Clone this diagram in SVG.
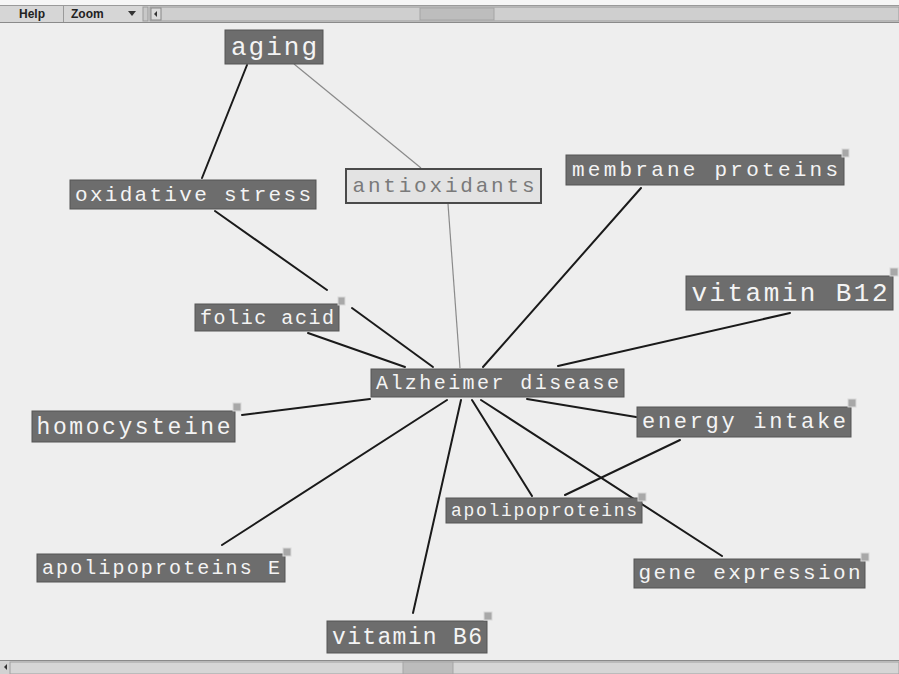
<svg xmlns="http://www.w3.org/2000/svg" width="899" height="674" viewBox="0 0 899 674">
<style>
.bg{fill:#eeeeee}
.node rect.box{fill:#6d6d6d;stroke:#555;stroke-width:1}
.node text{font-family:"Liberation Mono","Courier New",monospace;fill:#f4f4f4;text-anchor:middle}
.light rect.box{fill:#e3e3e3;stroke:#4a4a4a;stroke-width:2}
.light text{fill:#7a7a7a}
.badge{fill:#a8a8a8;stroke:#d8d8d8;stroke-width:1}
.edge{stroke:#1a1a1a;stroke-width:2;fill:none;stroke-linecap:round}
.thin{stroke:#8a8a8a;stroke-width:1.2;fill:none}
.tb{fill:#d6d6d6}
.btn{font-family:"Liberation Sans",Arial,sans-serif;font-size:12px;font-weight:bold;fill:#222}
</style>
<rect class="bg" x="0" y="0" width="899" height="674"/>
<!-- toolbar -->
<g id="toolbar">
<rect x="0" y="0" width="899" height="5" fill="#f6f6f6"/>
<rect class="tb" x="0" y="5" width="899" height="18"/>
<line x1="0" y1="5.5" x2="899" y2="5.5" stroke="#9a9a9a"/>
<line x1="0" y1="22.5" x2="899" y2="22.5" stroke="#8a8a8a"/>
<text class="btn" x="19" y="18">Help</text>
<line x1="63.5" y1="6" x2="63.5" y2="22" stroke="#9a9a9a"/>
<text class="btn" x="71" y="18">Zoom</text>
<polygon points="128,11 136,11 132,16" fill="#333"/>
<rect x="143" y="7" width="5" height="14" fill="#c8c8c8" stroke="#999"/>
<rect x="150" y="7" width="749" height="14" fill="#cfcfcf" stroke="#9a9a9a"/>
<rect x="151" y="8" width="10" height="12" fill="#dadada" stroke="#888"/>
<polygon points="157,11 157,17 154,14" fill="#333"/>
<rect x="420" y="8" width="74" height="12" fill="#bdbdbd" stroke="#a5a5a5"/>
</g>
<!-- bottom scrollbar -->
<g id="hscroll">
<rect x="0" y="660" width="899" height="14" fill="#d2d2d2"/>
<line x1="0" y1="660.5" x2="899" y2="660.5" stroke="#8a8a8a"/>
<rect x="10" y="662" width="889" height="12" fill="#d6d6d6" stroke="#a0a0a0"/>
<polygon points="7,664 7,670 4,667" fill="#333"/>
<rect x="403" y="662" width="50" height="12" fill="#bcbcbc" stroke="#a5a5a5"/>
</g>
<!-- connectors -->
<g id="connectors">
<line class="edge" x1="247" y1="65" x2="202" y2="178"/>
<line class="thin" x1="294" y1="64" x2="421" y2="168"/>
<line class="thin" x1="448" y1="204" x2="460" y2="368"/>
<line class="edge" x1="215" y1="211" x2="327" y2="290"/>
<line class="edge" x1="352" y1="308" x2="433" y2="367"/>
<line class="edge" x1="308" y1="333" x2="405" y2="367"/>
<line class="edge" x1="641" y1="188" x2="483" y2="367"/>
<line class="edge" x1="790" y1="313" x2="558" y2="366"/>
<line class="edge" x1="242" y1="415" x2="370" y2="399"/>
<line class="edge" x1="527" y1="399" x2="636" y2="417"/>
<line class="edge" x1="447" y1="400" x2="222" y2="545"/>
<line class="edge" x1="461" y1="400" x2="413" y2="613"/>
<line class="edge" x1="472" y1="400" x2="532" y2="496"/>
<line class="edge" x1="481" y1="400" x2="722" y2="556"/>
<line class="edge" x1="680" y1="440" x2="565" y2="495"/>
</g>
<!-- nodes -->
<g id="n-aging" class="node"><rect class="box" x="225" y="30" width="98" height="34"/><text x="274" y="55" font-size="26" textLength="86" lengthAdjust="spacing">aging</text></g>
<g id="n-oxidative-stress" class="node"><rect class="box" x="70" y="180" width="246" height="29"/><text x="193" y="201" font-size="21" textLength="236" lengthAdjust="spacing">oxidative stress</text></g>
<g id="n-antioxidants" class="node light"><rect class="box" x="346" y="169" width="195" height="34"/><text x="443.5" y="192" font-size="21" textLength="182" lengthAdjust="spacing">antioxidants</text></g>
<g id="n-membrane-proteins" class="node"><rect class="box" x="566" y="155" width="278" height="30"/><text x="705" y="176" font-size="21" textLength="266" lengthAdjust="spacing">membrane proteins</text><rect class="badge" x="842" y="149" width="7" height="8"/></g>
<g id="n-vitamin-b12" class="node"><rect class="box" x="686" y="276" width="207" height="34"/><text x="789.5" y="301" font-size="26" textLength="196" lengthAdjust="spacing">vitamin B12</text><rect class="badge" x="890" y="268" width="8" height="8"/></g>
<g id="n-folic-acid" class="node"><rect class="box" x="195" y="304" width="144" height="27"/><text x="267" y="324" font-size="20" textLength="134" lengthAdjust="spacing">folic acid</text><rect class="badge" x="338" y="297" width="7" height="8"/></g>
<g id="n-alzheimer" class="node"><rect class="box" x="371" y="369" width="253" height="28"/><text x="497.5" y="389" font-size="20" textLength="243" lengthAdjust="spacing">Alzheimer disease</text></g>
<g id="n-homocysteine" class="node"><rect class="box" x="32" y="411" width="203" height="31"/><text x="133.5" y="434" font-size="23" textLength="194" lengthAdjust="spacing">homocysteine</text><rect class="badge" x="233" y="403" width="8" height="8"/></g>
<g id="n-energy-intake" class="node"><rect class="box" x="637" y="407" width="214" height="30"/><text x="744" y="428" font-size="22" textLength="204" lengthAdjust="spacing">energy intake</text><rect class="badge" x="848" y="399" width="8" height="8"/></g>
<g id="n-apolipoproteins" class="node"><rect class="box" x="446" y="498" width="196" height="25"/><text x="544" y="516" font-size="18" textLength="186" lengthAdjust="spacing">apolipoproteins</text><rect class="badge" x="638" y="493" width="8" height="8"/></g>
<g id="n-apolipoproteins-e" class="node"><rect class="box" x="37" y="554" width="248" height="28"/><text x="161" y="574" font-size="20" textLength="238" lengthAdjust="spacing">apolipoproteins E</text><rect class="badge" x="283" y="548" width="8" height="8"/></g>
<g id="n-gene-expression" class="node"><rect class="box" x="634" y="559" width="231" height="29"/><text x="749.5" y="579" font-size="21" textLength="222" lengthAdjust="spacing">gene expression</text><rect class="badge" x="861" y="553" width="8" height="8"/></g>
<g id="n-vitamin-b6" class="node"><rect class="box" x="327" y="621" width="160" height="32"/><text x="407" y="644" font-size="23" textLength="150" lengthAdjust="spacing">vitamin B6</text><rect class="badge" x="484" y="612" width="8" height="8"/></g>
</svg>
